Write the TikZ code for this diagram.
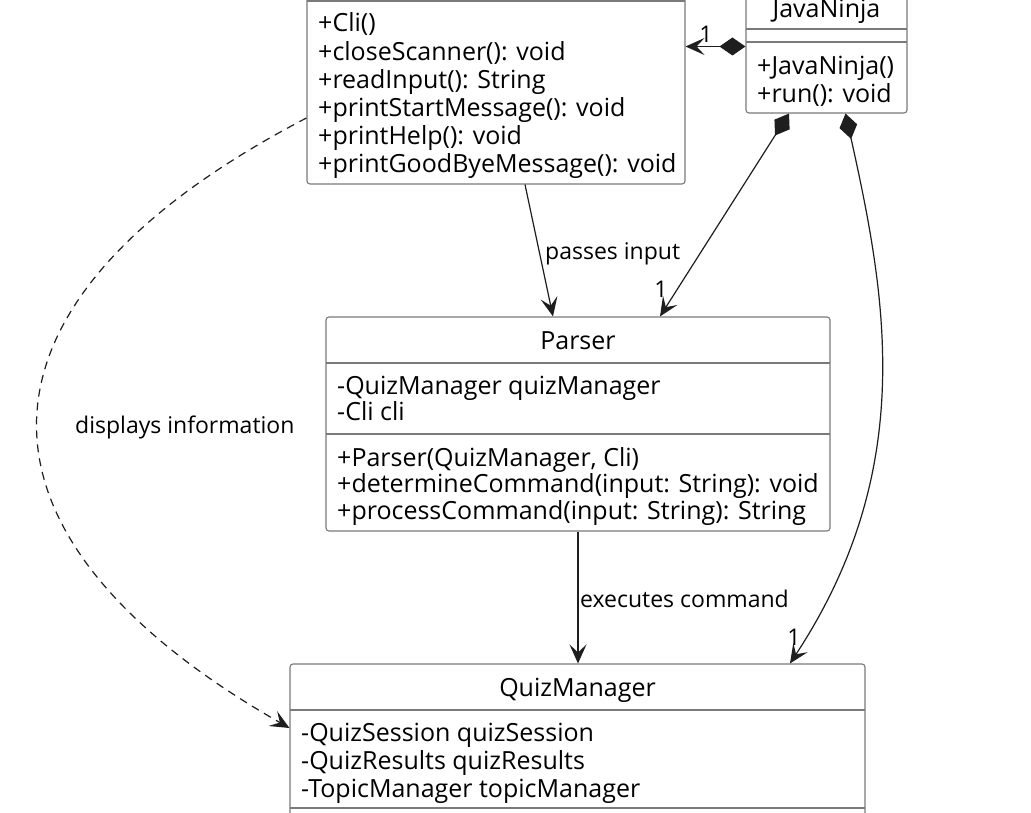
\documentclass[tikz,border=0pt]{standalone}
\usepackage{fontspec}
\setmainfont{Open Sans}
\usetikzlibrary{arrows.meta,calc}
\definecolor{boxline}{HTML}{7A7A7A}
\definecolor{arrline}{HTML}{1E1E1E}
\begin{document}
\begin{tikzpicture}[x=1pt,y=-1pt,
  classbox/.style={draw=boxline, line width=1.1pt, rounded corners=3pt, fill=white, inner sep=0pt},
  sepline/.style={draw=boxline, line width=1.1pt},
  member/.style={anchor=base west, inner sep=0pt, font=\fontsize{25}{28}\selectfont},
  ctitle/.style={anchor=base, inner sep=0pt, font=\fontsize{25}{28}\selectfont},
  lbl/.style={anchor=base west, inner sep=0pt, font=\fontsize{23}{26}\selectfont},
  mult/.style={anchor=base, inner sep=0pt, font=\fontsize{23}{26}\selectfont},
  conn/.style={draw=arrline, line width=1.2pt},
  opentip/.style={-{Stealth[length=19pt,width=17pt,inset=8pt]}},
  comptip/.style={{Diamond[length=26pt,width=18pt]}-{Stealth[length=19pt,width=17pt,inset=8pt]}},
  depline/.style={conn, dash pattern=on 8pt off 6pt},
]
\useasboundingbox (0,0) rectangle (1031,813);
\fill[white] (0,0) rectangle (1031,813);
\clip (0,0) rectangle (1031,813);

% ---------- Cli ----------
\node[classbox, minimum width=378pt, minimum height=274pt] (cli) at (496,47) {};
\draw[sepline] (307,1) -- (685,1);
\node[member] (c1) at (318,32) {+Cli()};
\node[member] (c2) at (318,60.2) {+closeScanner(): void};
\node[member] (c3) at (318,88.4) {+readInput(): String};
\node[member] (c4) at (318,116.6) {+printStartMessage(): void};
\node[member] (c5) at (318,144.8) {+printHelp(): void};
\node[member] (c6) at (318,173) {+printGoodByeMessage(): void};

% ---------- JavaNinja ----------
\node[classbox, minimum width=161pt, minimum height=133pt] (jn) at (826.5,46.5) {};
\node[ctitle] (jnt) at (826.5,18) {JavaNinja};
\draw[sepline] (746,29) -- (907,29);
\draw[sepline] (746,42) -- (907,42);
\node[member] (j1) at (757,75) {+JavaNinja()};
\node[member] (j2) at (757,103) {+run(): void};

% ---------- Parser ----------
\node[classbox, minimum width=504pt, minimum height=214pt] (parser) at (578,424) {};
\node[ctitle] (pt) at (578,349) {Parser};
\draw[sepline] (326,363) -- (830,363);
\node[member] (p1) at (337,394) {-QuizManager quizManager};
\node[member] (p2) at (337,420.5) {-Cli cli};
\draw[sepline] (326,434) -- (830,434);
\node[member] (p3) at (337,466) {+Parser(QuizManager, Cli)};
\node[member] (p4) at (337,492.5) {+determineCommand(input: String): void};
\node[member] (p5) at (337,519.5) {+processCommand(input: String): String};

% ---------- QuizManager ----------
\node[classbox, minimum width=575pt, minimum height=236pt] (qm) at (577.5,782) {};
\node[ctitle] (qt) at (577.5,696) {QuizManager};
\draw[sepline] (290,710) -- (865,710);
\node[member] (q1) at (301,741) {-QuizSession quizSession};
\node[member] (q2) at (301,769) {-QuizResults quizResults};
\node[member] (q3) at (301,797) {-TopicManager topicManager};
\draw[sepline] (290,808) -- (865,808);

% ---------- connectors ----------
\draw[conn, comptip] (jn.west) -- (jn.west -| cli.east);
\node[mult] (m1) at (706,43) {1};

\draw[conn, comptip] ($(jn.south)+(-37.5,0)$) -- ($(parser.north)+(82,0)$);
\node[mult] (m2) at (661,297) {1};

\draw[conn, comptip] ($(jn.south)+(19,0)$) .. controls (887,300) and (917,470) .. ($(qm.north)+(212.5,0)$);
\node[mult] (m3) at (794,645) {1};

\draw[conn, opentip] ($(cli.south)+(29,0)$) -- ($(parser.north)+(-25,0)$);
\node[lbl] (l1) at (545,259) {passes input};

\draw[conn, opentip] (parser.south) -- (parser.south |- qm.north);
\node[lbl] (l2) at (580,607) {executes command};

\draw[depline, opentip] ($(cli.west)+(0,71)$) .. controls (-49,303) and (-49,535) .. ($(qm.west)+(0,-54)$);
\node[lbl] (l3) at (75,433) {displays information};
\end{tikzpicture}
\end{document}
